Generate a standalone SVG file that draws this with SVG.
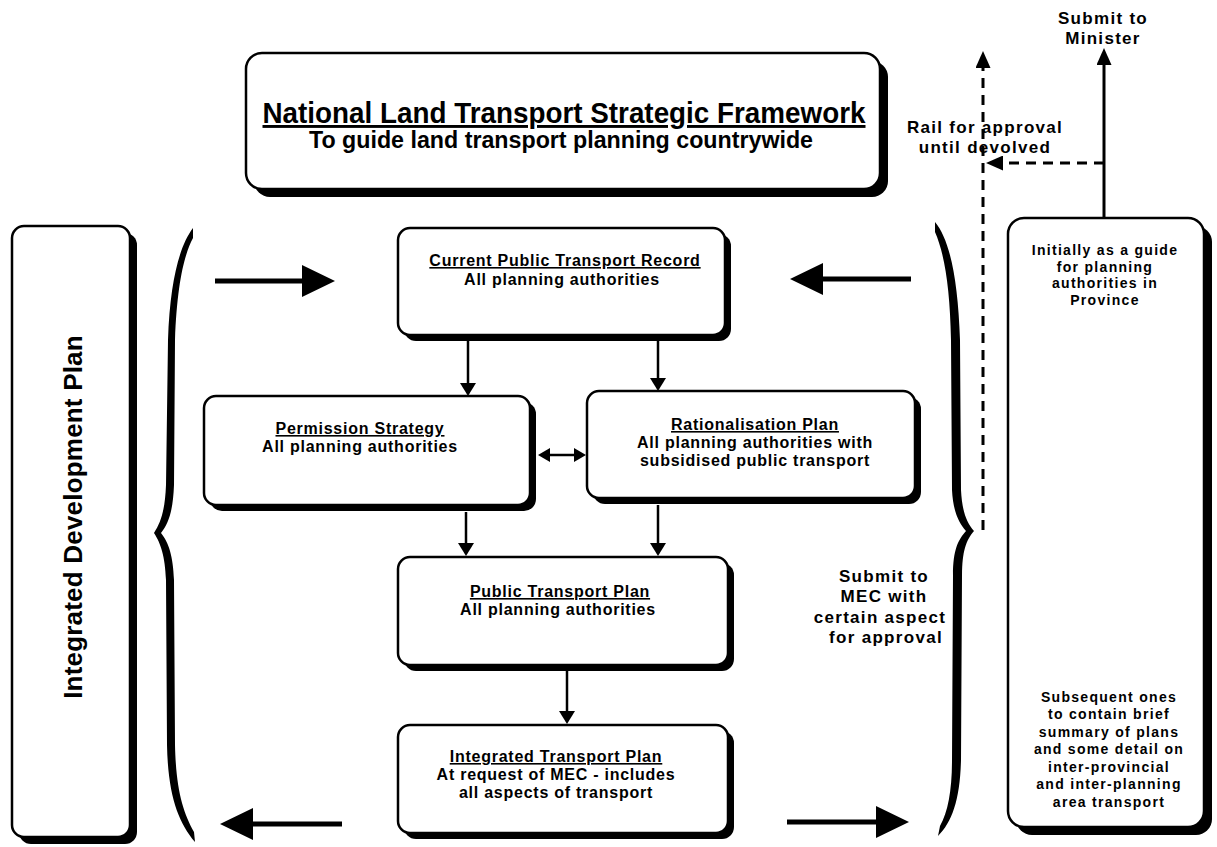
<svg xmlns="http://www.w3.org/2000/svg" width="1217" height="847" viewBox="0 0 1217 847">
<style>
.bg{fill:#fff}
.sh{fill:#000}
.bx{fill:#fff;stroke:#000;stroke-width:2.5}
.t{font-family:"Liberation Sans",Arial,Helvetica,sans-serif;font-weight:bold;fill:#000;text-anchor:middle}
.bt{font-size:16px;letter-spacing:0.75px}
.rt{font-size:14px;letter-spacing:1.3px}
.lt{font-size:17px;letter-spacing:1.3px}
.u{text-decoration:underline}
.ln{stroke:#000;fill:none}
.thin{stroke-width:2.5}
.thick{stroke-width:5}
.med{stroke-width:3}
.dash{stroke-width:3;stroke-dasharray:10 7}
.brace{fill:#000}
</style>
<defs>
<marker id="ahS" markerUnits="userSpaceOnUse" viewBox="0 0 13 16" refX="0" refY="8" markerWidth="13" markerHeight="16" orient="auto-start-reverse"><path d="M0,0 L13,8 L0,16 Z" fill="#000"/></marker>
<marker id="ahD" markerUnits="userSpaceOnUse" viewBox="0 0 12 14" refX="0" refY="7" markerWidth="12" markerHeight="14" orient="auto-start-reverse"><path d="M0,0 L12,7 L0,14 Z" fill="#000"/></marker>
<marker id="ahB" markerUnits="userSpaceOnUse" viewBox="0 0 33 32" refX="0" refY="16" markerWidth="33" markerHeight="32" orient="auto"><path d="M0,0 L33,16 L0,32 Z" fill="#000"/></marker>
<marker id="ahM" markerUnits="userSpaceOnUse" viewBox="0 0 17 15" refX="0" refY="7.5" markerWidth="17" markerHeight="15" orient="auto"><path d="M0,0 L17,7.5 L0,15 Z" fill="#000"/></marker>
</defs>
<rect class="bg" x="0" y="0" width="1217" height="847"/>

<g id="braces">
<path class="brace" d="M193,228 C180,245 170,280 168,340 L166,485 C165,510 161,522 154,533 C161,544 165,556 166,580 L167,745 C168,795 178,822 195,842 L194,832 C183,812 176,790 175,745 L174,580 C173,556 169,543 161,533 C169,523 173,510 174,485 L175,340 C177,285 184,255 193,238 Z"/>
<path class="brace" d="M935,222 C950,240 958,280 960,340 L961,490 C962,510 966,522 974,531 C966,540 962,552 962,575 L961,760 C960,800 952,822 938,836 L940,826 C948,812 952,790 952,760 L953,575 C953,550 958,540 966,531 C958,522 953,510 952,490 L951,340 C950,290 945,255 935,232 Z"/>
</g>

<g id="connectors">
<line class="ln thick" x1="215" y1="281" x2="302" y2="281" marker-end="url(#ahB)"/>
<line class="ln thick" x1="911" y1="279" x2="823" y2="279" marker-end="url(#ahB)"/>
<line class="ln thick" x1="342" y1="824" x2="253" y2="824" marker-end="url(#ahB)"/>
<line class="ln thick" x1="787" y1="822" x2="876" y2="822" marker-end="url(#ahB)"/>
<line class="ln thin" x1="468" y1="341" x2="468" y2="383" marker-end="url(#ahS)"/>
<line class="ln thin" x1="658" y1="341" x2="658" y2="378" marker-end="url(#ahS)"/>
<line class="ln thin" x1="550" y1="455" x2="574" y2="455" marker-start="url(#ahD)" marker-end="url(#ahD)"/>
<line class="ln thin" x1="466" y1="512" x2="466" y2="543" marker-end="url(#ahS)"/>
<line class="ln thin" x1="658" y1="505" x2="658" y2="543" marker-end="url(#ahS)"/>
<line class="ln thin" x1="567" y1="671" x2="567" y2="711" marker-end="url(#ahS)"/>
<line class="ln med" x1="1104" y1="218" x2="1104" y2="65" marker-end="url(#ahM)"/>
<line class="ln dash" x1="983" y1="530" x2="983" y2="68" marker-end="url(#ahM)"/>
<line class="ln dash" x1="1104" y1="163" x2="1003" y2="163" marker-end="url(#ahM)"/>
</g>

<g id="nltsf">
<rect class="sh" x="254" y="61" width="634" height="136" rx="16"/>
<rect class="bx" x="246" y="53" width="634" height="136" rx="16"/>
<text class="t u" x="564" y="123" font-size="29" textLength="603" lengthAdjust="spacingAndGlyphs">National Land Transport Strategic Framework</text>
<text class="t" x="561" y="148" font-size="23" textLength="504" lengthAdjust="spacingAndGlyphs">To guide land transport planning countrywide</text>
</g>

<g id="idp">
<rect class="sh" x="19" y="233" width="118" height="611" rx="12"/>
<rect class="bx" x="12" y="226" width="118" height="611" rx="12"/>
<text class="t" transform="translate(82,517) rotate(-90)" x="0" y="0" font-size="26" letter-spacing="0.2">Integrated Development Plan</text>
</g>

<g id="cptr">
<rect class="sh" x="404" y="234" width="327" height="107" rx="12"/>
<rect class="bx" x="398" y="228" width="327" height="107" rx="12"/>
<text class="t bt u" x="565" y="266">Current Public Transport Record</text>
<text class="t bt" x="562" y="285">All planning authorities</text>
</g>

<g id="permission">
<rect class="sh" x="210" y="402" width="326" height="109" rx="12"/>
<rect class="bx" x="204" y="396" width="326" height="109" rx="12"/>
<text class="t bt u" x="360" y="434">Permission Strategy</text>
<text class="t bt" x="360" y="452">All planning authorities</text>
</g>

<g id="rationalisation">
<rect class="sh" x="593" y="397" width="328" height="107" rx="12"/>
<rect class="bx" x="587" y="391" width="328" height="107" rx="12"/>
<text class="t bt u" x="755" y="430">Rationalisation Plan</text>
<text class="t bt" x="755" y="448">All planning authorities with</text>
<text class="t bt" x="755" y="466">subsidised public transport</text>
</g>

<g id="ptp">
<rect class="sh" x="404" y="563" width="330" height="108" rx="12"/>
<rect class="bx" x="398" y="557" width="330" height="108" rx="12"/>
<text class="t bt u" x="560" y="597">Public Transport Plan</text>
<text class="t bt" x="558" y="615">All planning authorities</text>
</g>

<g id="itp">
<rect class="sh" x="404" y="731" width="330" height="108" rx="12"/>
<rect class="bx" x="398" y="725" width="330" height="108" rx="12"/>
<text class="t bt u" x="556" y="762">Integrated Transport Plan</text>
<text class="t bt" x="556" y="780">At request of MEC - includes</text>
<text class="t bt" x="556" y="798">all aspects of transport</text>
</g>

<g id="province">
<rect class="sh" x="1016" y="226" width="196" height="609" rx="16"/>
<rect class="bx" x="1008" y="218" width="196" height="609" rx="16"/>
<text class="t rt" x="1105" y="255">Initially as a guide</text>
<text class="t rt" x="1105" y="272">for planning</text>
<text class="t rt" x="1105" y="288">authorities in</text>
<text class="t rt" x="1105" y="305">Province</text>
<text class="t rt" x="1109" y="702">Subsequent ones</text>
<text class="t rt" x="1109" y="719">to contain brief</text>
<text class="t rt" x="1109" y="737">summary of plans</text>
<text class="t rt" x="1109" y="754">and some detail on</text>
<text class="t rt" x="1109" y="772">inter-provincial</text>
<text class="t rt" x="1109" y="789">and inter-planning</text>
<text class="t rt" x="1109" y="807">area transport</text>
</g>

<g id="labels">
<text class="t lt" x="1103" y="24">Submit to</text>
<text class="t lt" x="1103" y="44">Minister</text>
<text class="t lt" x="985" y="133" font-size="16.5">Rail for approval</text>
<text class="t lt" x="985" y="153" font-size="16.5">until devolved</text>
<text class="t lt" x="884" y="582">Submit to</text>
<text class="t lt" x="884" y="602">MEC with</text>
<text class="t lt" x="880" y="623">certain aspect</text>
<text class="t lt" x="886" y="643">for approval</text>
</g>
</svg>
